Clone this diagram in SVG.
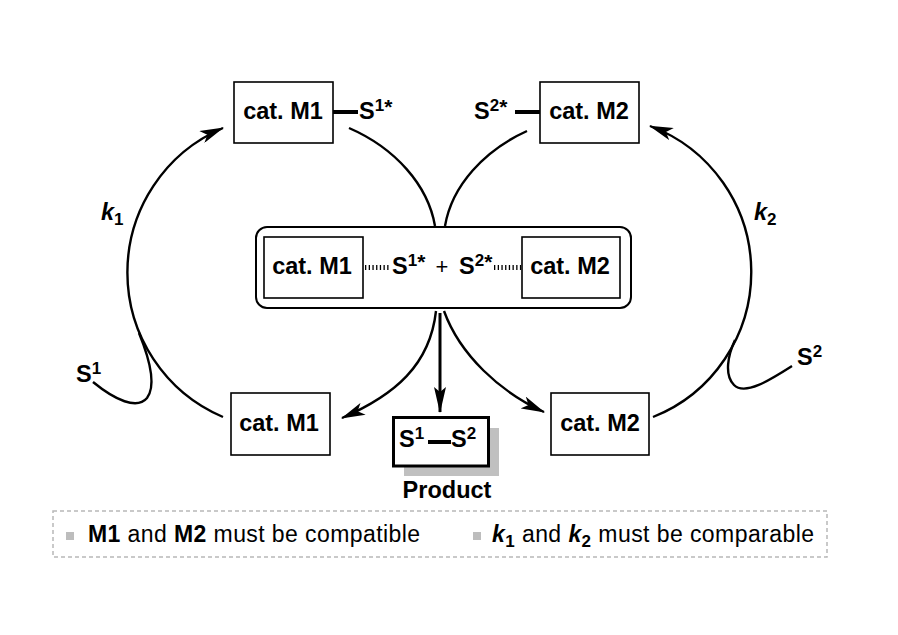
<svg xmlns="http://www.w3.org/2000/svg" width="898" height="635" viewBox="0 0 898 635">
<style>
  .box { fill: #fff; stroke: #000; stroke-width: 1.6; }
  .lbl { font-family: "Liberation Sans", Arial, sans-serif; font-weight: bold; font-size: 23.5px; fill: #000; }
  .sup { font-size: 17px; }
  .ast { font-size: 21px; }
  .curve { fill: none; stroke: #000; stroke-width: 2.4; }
  .bond { stroke: #000; stroke-width: 4; }
  .dots { stroke: #000; stroke-width: 5; stroke-dasharray: 1.3 2.4; }
  .leg { font-family: "Liberation Sans", Arial, sans-serif; font-size: 23px; fill: #000; }
  .bullet { fill: #bdbdbd; }
</style>
<defs>
  <marker id="arr" viewBox="0 0 24 13" refX="23" refY="6.5" markerWidth="24" markerHeight="13" markerUnits="userSpaceOnUse" orient="auto">
    <path d="M0,0 L24,6.5 L0,13 L6,6.5 Z" fill="#000"/>
  </marker>
  <marker id="arrv" viewBox="0 0 26 12" refX="25" refY="6" markerWidth="26" markerHeight="12" markerUnits="userSpaceOnUse" orient="auto">
    <path d="M0,0 L26,6 L0,12 L5,6 Z" fill="#000"/>
  </marker>
</defs>
<rect width="898" height="635" fill="#fff"/>

<g id="connectors">
  <path class="curve" d="M 223 417 A 157 157 0 0 1 223 128" marker-end="url(#arr)"/>
  <path class="curve" d="M 93 382 C 115 400, 137 410, 147 398 C 156 386, 150 360, 139 333"/>
  <path class="curve" d="M 653 417 A 156 156 0 0 0 650 126" marker-end="url(#arr)"/>
  <path class="curve" d="M 792 366 C 770 380, 745 396, 734 385 C 724 375, 728 355, 735 340"/>
  <path class="curve" d="M 349 128 C 395 148, 428 185, 435 226"/>
  <path class="curve" d="M 527 131 C 485 150, 452 185, 445 226"/>
  <path class="curve" d="M 436 311 C 430 365, 395 395, 342 418" marker-end="url(#arr)"/>
  <path class="curve" d="M 444 311 C 460 355, 500 392, 544 412" marker-end="url(#arr)"/>
  <line x1="440" y1="313" x2="440" y2="412" stroke="#000" stroke-width="3" marker-end="url(#arrv)"/>
</g>

<g id="top-m1">
  <rect class="box" x="234" y="82" width="99" height="61"/>
  <text class="lbl" x="283" y="119" text-anchor="middle">cat. M1</text>
  <line class="bond" x1="333" y1="112" x2="358" y2="112"/>
  <text class="lbl" x="359" y="119">S<tspan class="sup" dy="-8">1</tspan><tspan class="ast" dy="3">*</tspan></text>
</g>

<g id="top-m2">
  <rect class="box" x="540" y="82" width="99" height="61"/>
  <text class="lbl" x="589" y="119" text-anchor="middle">cat. M2</text>
  <line class="bond" x1="515" y1="112" x2="540" y2="112"/>
  <text class="lbl" x="474" y="119">S<tspan class="sup" dy="-8">2</tspan><tspan class="ast" dy="3">*</tspan></text>
</g>

<g id="complex">
  <rect x="256" y="227" width="375" height="81" rx="11" ry="11" fill="#fff" stroke="#000" stroke-width="2"/>
  <rect class="box" x="264" y="237" width="99" height="61"/>
  <text class="lbl" x="312" y="274" text-anchor="middle">cat. M1</text>
  <line class="dots" x1="365" y1="267.5" x2="390" y2="267.5"/>
  <text class="lbl" x="392" y="274">S<tspan class="sup" dy="-8">1</tspan><tspan class="ast" dy="3">*</tspan></text>
  <text class="lbl" x="442" y="274" text-anchor="middle" style="font-weight:normal;font-size:22px">+</text>
  <text class="lbl" x="459" y="274">S<tspan class="sup" dy="-8">2</tspan><tspan class="ast" dy="3">*</tspan></text>
  <line class="dots" x1="494" y1="267.5" x2="521" y2="267.5"/>
  <rect class="box" x="522" y="237" width="98" height="61"/>
  <text class="lbl" x="570" y="274" text-anchor="middle">cat. M2</text>
</g>

<g id="bottom-m1">
  <rect class="box" x="231" y="393" width="99" height="62"/>
  <text class="lbl" x="279" y="431" text-anchor="middle">cat. M1</text>
</g>

<g id="bottom-m2">
  <rect class="box" x="551" y="393" width="98" height="62"/>
  <text class="lbl" x="600" y="431" text-anchor="middle">cat. M2</text>
</g>

<g id="product">
  <rect x="404" y="428" width="95" height="48" fill="#c0c0c0"/>
  <rect x="393.5" y="417.5" width="95" height="48.5" fill="#fff" stroke="#000" stroke-width="3"/>
  <text class="lbl" x="399" y="447">S<tspan class="sup" dy="-8">1</tspan></text>
  <line class="bond" x1="428" y1="442" x2="451" y2="442"/>
  <text class="lbl" x="451" y="447">S<tspan class="sup" dy="-8">2</tspan></text>
  <text class="lbl" x="447" y="498" text-anchor="middle">Product</text>
</g>

<g id="labels">
  <text class="lbl" x="101" y="220" font-style="italic">k<tspan class="sup" style="font-style:normal" dy="5">1</tspan></text>
  <text class="lbl" x="754" y="220" font-style="italic">k<tspan class="sup" style="font-style:normal" dy="5">2</tspan></text>
  <text class="lbl" x="76" y="382">S<tspan class="sup" dy="-8">1</tspan></text>
  <text class="lbl" x="797" y="365">S<tspan class="sup" dy="-8">2</tspan></text>
</g>

<g id="legend">
  <rect x="53" y="511" width="774" height="46" fill="none" stroke="#b8b8b8" stroke-width="1.5" stroke-dasharray="4 3"/>
  <rect class="bullet" x="66" y="532" width="8" height="8"/>
  <text class="leg" x="88" y="542" textLength="332" lengthAdjust="spacing"><tspan font-weight="bold">M1</tspan> and <tspan font-weight="bold">M2</tspan> must be compatible</text>
  <rect class="bullet" x="473" y="532" width="8" height="8"/>
  <text class="leg" x="492" y="542" textLength="322" lengthAdjust="spacing"><tspan font-weight="bold" font-style="italic">k</tspan><tspan font-weight="bold" font-size="17px" dy="5">1</tspan><tspan dy="-5"> and </tspan><tspan font-weight="bold" font-style="italic">k</tspan><tspan font-weight="bold" font-size="17px" dy="5">2</tspan><tspan dy="-5"> must be comparable</tspan></text>
</g>
</svg>
